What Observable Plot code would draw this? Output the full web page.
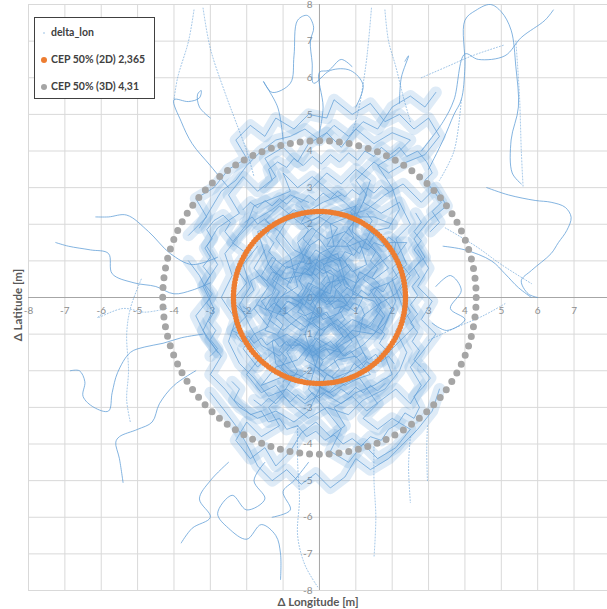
<!DOCTYPE html>
<html><head><meta charset="utf-8">
<script src="https://cdn.jsdelivr.net/npm/d3@7"></script>
<script src="https://cdn.jsdelivr.net/npm/@observablehq/plot@0.6"></script>
<style>
body{margin:0;background:#fff;font-family:Lato,"Open Sans",sans-serif;}
#wrap{position:relative;width:607px;height:609px;overflow:hidden;background:#fff}
#legend{position:absolute;left:34px;top:17px;width:119px;height:80px;border:1.5px solid #404040;background:#fff;font-size:10.5px;font-weight:700;color:#404040}
#legend .row{position:absolute;left:16px;white-space:nowrap}
#legend .dot{position:absolute;left:6px;width:6px;height:6px;border-radius:50%}
.atitle{position:absolute;font-size:11.5px;line-height:12px;font-weight:700;color:#595959;white-space:nowrap}
</style></head>
<body><div id="wrap"></div>
<script>
// ---- data ----
const ticks = [-8,-7,-6,-5,-4,-3,-2,-1,0,1,2,3,4,5,6,7,8];
const seriesName = "delta_lon";
const cepLabels = ["CEP 50% (2D) 2,365", "CEP 50% (3D) 4,31"];
const cepRadii = [2.365, 4.31];
const cepColors = ["#ed7d31", "#a5a5a5"];

const corePaths = [
[[0,0],[0.3,0.4],[0.1,0.9],[0.6,1.1],[0.9,0.7],[1.3,0.9],[1.1,1.5],[0.7,1.8],[0.2,1.6],[-0.2,1.9],[-0.6,1.5],[-0.4,1.0],[-0.9,0.8],[-1.3,1.1],[-1.6,0.6],[-1.2,0.2],[-1.5,-0.3],[-1.0,-0.5],[-0.6,-0.2],[-0.3,-0.6],[0.2,-0.4],[0.5,-0.9],[0.9,-0.6],[1.4,-0.8],[1.7,-0.3],[1.4,0.2],[1.9,0.4],[2.1,-0.1],[1.8,-0.7],[1.2,-1.3],[0.7,-1.6],[0.3,-1.2],[-0.2,-1.5],[-0.7,-1.2],[-1.1,-1.6],[-1.6,-1.3],[-1.9,-0.8],[-2.2,-0.2],[-1.9,0.3],[-2.1,0.9],[-1.7,1.4]],
[[0.5,0.2],[0.8,-0.2],[0.4,-0.3],[0.1,0.2],[-0.3,0.4],[-0.5,0.0],[-0.9,0.3],[-0.7,0.7],[-0.2,0.6],[0.0,1.2],[0.4,1.4],[0.3,2.0],[0.8,2.2],[1.2,2.0],[1.6,1.6],[2.0,1.2],[1.6,0.9],[1.0,0.4],[0.6,0.6],[0.2,0.3],[-0.1,-0.2],[-0.4,-1.0],[-0.1,-1.9],[0.4,-2.2],[0.9,-2.0],[1.3,-1.7],[1.0,-1.1],[0.5,-0.6],[0.0,-0.9],[-0.5,-0.5],[-1.0,-0.9],[-1.4,-0.6],[-1.1,0.0],[-0.6,0.3],[-0.8,1.1],[-1.2,1.6],[-0.9,2.1],[-0.4,2.3],[0.1,2.6],[0.6,2.8]],
[[-0.2,3.0],[0.2,3.4],[0.6,3.1],[1.0,3.5],[1.4,3.2],[1.2,2.6],[1.7,2.3],[2.2,2.6],[2.5,2.0],[2.1,1.6],[2.4,0.9],[2.0,0.5],[2.3,-0.3],[2.6,-0.8],[2.2,-1.2],[1.8,-1.6],[2.0,-2.1],[1.5,-2.4],[1.0,-2.6],[0.6,-2.9],[0.1,-2.6],[-0.4,-2.9],[-0.9,-2.5],[-1.4,-2.7],[-1.8,-2.2],[-2.2,-1.8],[-2.5,-1.2],[-2.3,-0.6],[-2.7,0.0],[-2.4,0.6],[-2.6,1.2],[-2.2,1.7],[-1.8,2.1],[-1.3,2.4],[-0.8,2.8],[-0.3,2.6]],
[[0.0,0.5],[-0.4,0.9],[-0.1,1.3],[0.5,0.9],[0.7,0.3],[1.2,0.0],[1.0,-0.4],[0.6,-0.1],[0.2,-0.1],[-0.2,0.1],[-0.6,-0.1],[-0.3,-0.3],[0.0,-0.5],[-0.4,-0.8],[-0.8,-0.5],[-1.2,-0.2],[-0.9,0.2],[-1.3,0.5],[-1.0,0.9],[-0.5,1.2],[-0.1,1.8],[0.4,2.3],[1.0,2.5],[0.9,1.8],[1.5,1.3],[1.9,0.8],[1.5,0.5],[1.1,0.7],[0.9,0.1],[1.5,-0.1],[1.8,-0.5],[1.5,-1.0],[0.9,-0.9],[0.4,-1.4],[-0.1,-1.1],[-0.6,-1.7],[-1.2,-1.9],[-1.6,-2.4],[-1.1,-2.2],[-0.6,-2.1]],
[[-0.5,-1.0],[-0.9,-1.5],[-0.6,-2.0],[-1.0,-2.6],[-1.4,-3.0],[-1.1,-3.5],[-1.6,-3.8],[-2.0,-3.4],[-2.3,-3.9],[-1.9,-4.4],[-1.5,-4.1],[-1.2,-4.6],[-0.8,-4.2],[-0.5,-3.7],[-0.1,-3.4],[0.3,-3.8],[0.7,-3.5],[0.4,-3.0],[0.9,-2.7],[1.3,-3.1],[1.7,-2.8],[2.1,-2.5],[2.5,-2.9],[2.8,-2.4],[2.5,-1.9],[2.9,-1.4],[3.2,-1.0],[2.8,-0.6],[3.1,-0.1],[2.7,0.3],[3.0,0.8],[2.7,1.3]],
[[0.2,1.0],[0.6,1.6],[1.1,1.2],[1.4,1.8],[1.9,1.9],[2.2,2.4],[2.0,3.0],[1.6,3.6],[2.1,3.9],[2.5,4.3],[2.0,4.5],[1.5,4.2],[1.0,4.6],[0.6,4.1],[0.2,4.5],[-0.3,4.2],[-0.6,3.7],[-1.0,4.1],[-1.5,3.8],[-1.2,3.3],[-1.7,2.9],[-2.1,3.3],[-2.5,2.8],[-2.2,2.3],[-2.8,1.9],[-3.1,1.4],[-2.8,0.9],[-3.2,0.3],[-2.9,-0.3],[-3.2,-0.9],[-2.8,-1.5]],
[[-0.8,0.0],[-0.4,-0.2],[-0.2,0.3],[0.3,0.1],[0.4,0.6],[0.0,0.8],[-0.3,1.1],[-0.7,1.3],[-1.1,1.8],[-1.5,2.1],[-1.1,2.5],[-0.5,2.0],[0.0,2.2],[0.5,1.9],[0.2,1.4],[0.8,1.4],[1.3,1.6],[1.7,1.1],[1.2,0.5],[1.6,0.2],[2.0,-0.3],[1.7,-1.0],[1.1,-0.7],[0.7,-1.1],[0.3,-0.7],[-0.1,-1.2],[-0.4,-1.7],[0.1,-2.0],[0.5,-1.7],[1.0,-1.6],[1.4,-2.1],[0.8,-2.3],[0.3,-2.6],[-0.2,-2.3],[-0.8,-2.0],[-1.3,-1.5],[-1.7,-1.9],[-2.1,-1.4],[-1.8,-1.0],[-1.4,-0.8],[-1.8,-0.3],[-1.4,0.3],[-1.8,0.8],[-1.5,1.3]],
[[1.0,0.2],[0.6,-0.4],[0.1,-0.6],[-0.2,-0.1],[0.2,0.4],[0.7,0.5],[0.5,1.2],[0.0,1.0],[-0.5,0.6],[-1.0,0.5],[-1.4,0.9],[-1.7,1.8],[-1.2,2.0],[-0.7,2.4],[-0.2,2.1],[0.3,2.4],[0.7,2.2],[1.3,2.4],[1.8,2.8],[2.3,3.1],[2.8,2.6],[3.2,3.0],[3.5,2.5],[3.0,2.1],[2.6,1.6],[2.9,1.1],[2.4,0.6],[2.1,0.1],[1.6,-0.2],[1.2,-0.5],[1.1,-1.0],[0.6,-1.3],[0.1,-1.7],[-0.4,-1.3],[-0.9,-1.0],[-1.3,-1.2],[-1.2,-1.8],[-0.7,-2.3],[-0.3,-2.0]],
[[0.5,1.5],[0.9,2.0],[1.3,2.8],[1.0,3.2],[1.5,3.7],[1.9,3.4],[2.4,3.7],[2.9,3.9],[3.3,4.4],[3.0,4.9],[2.6,4.6],[2.2,5.0],[1.8,4.8],[1.4,5.3],[0.9,5.0],[0.4,5.4],[0.2,4.9],[-0.3,5.0],[-0.7,4.6],[-1.2,4.9],[-1.5,4.4],[-1.9,4.7],[-2.3,4.3],[-2.0,3.8],[-2.5,3.5],[-2.9,3.0],[-3.4,2.7],[-3.1,2.2],[-3.6,1.7]],
[[0.0,-1.5],[-0.3,-2.5],[0.2,-3.1],[0.6,-3.6],[0.3,-4.2],[0.8,-4.5],[1.2,-4.0],[1.6,-4.4],[2.1,-4.1],[2.5,-3.6],[2.0,-3.3],[1.6,-3.6],[1.2,-3.3],[1.6,-2.9],[1.1,-2.2],[0.7,-2.4],[0.2,-2.1],[-0.3,-3.1],[-0.7,-3.4],[-1.2,-3.1],[-1.7,-3.3],[-2.2,-3.0],[-2.6,-2.5],[-3.0,-2.1],[-2.7,-1.6],[-3.1,-1.1],[-3.4,-0.5],[-3.0,0.0],[-3.3,0.6],[-3.6,1.0]],
[[0.1,0.1],[0.3,-0.2],[0.6,0.0],[0.4,0.3],[0.7,0.5],[0.9,0.2],[1.1,0.5],[0.8,0.9],[0.5,0.7],[0.2,0.9],[-0.1,0.6],[-0.4,0.8],[-0.6,0.5],[-0.3,0.2],[-0.6,-0.2],[-0.9,-0.1],[-1.1,-0.4],[-0.8,-0.7],[-0.5,-0.9],[-0.2,-0.7],[0.1,-0.9],[0.4,-0.7],[0.7,-0.9],[0.9,-1.2],[0.6,-1.5],[0.2,-1.4],[-0.2,-1.6],[-0.5,-1.3],[-0.9,-1.3],[-1.2,-1.0],[-1.5,-0.9],[-1.3,-0.5],[-1.6,-0.1],[-1.3,0.1],[-1.1,0.6],[-0.8,0.4],[-0.5,1.0],[-0.3,1.4],[0.0,1.6],[0.3,1.2],[0.6,1.0]],
[[2.0,2.0],[1.5,2.2],[1.1,2.2],[0.7,2.6],[0.3,2.9],[-0.2,3.3],[-0.6,3.0],[-1.0,3.4],[-0.8,2.9],[-1.3,2.7],[-1.8,2.5],[-2.0,2.0],[-2.4,1.5],[-2.0,1.2],[-2.3,0.8],[-2.0,0.4],[-2.4,-0.1],[-2.0,-0.5],[-2.4,-0.9],[-2.0,-1.1],[-1.6,-1.6],[-2.0,-2.1],[-1.6,-2.6],[-1.2,-2.4],[-0.8,-2.9],[-0.3,-3.3],[0.2,-3.0],[0.8,-3.2],[1.2,-2.8],[1.8,-2.5],[2.2,-2.0],[2.4,-1.5],[2.1,-0.9],[2.5,-0.4],[2.2,0.2],[2.5,0.6],[2.1,1.1],[2.4,1.5],[1.9,1.5]],
[[-2.0,0.0],[-1.8,0.2],[-1.9,0.45],[-1.65,0.6],[-1.45,0.45],[-1.3,0.7],[-1.05,0.6],[-0.9,0.85],[-0.65,0.75],[-0.55,1.0],[-0.3,0.9],[-0.1,1.05],[0.15,0.9],[0.3,1.1],[0.55,1.0],[0.7,1.25],[0.95,1.15],[1.1,1.4],[1.35,1.3],[1.5,1.5],[1.75,1.4],[1.9,1.65],[2.1,1.5],[2.05,1.25],[2.2,1.0],[2.0,0.8],[2.15,0.55],[1.9,0.4],[1.75,0.15],[1.55,0.3],[1.35,0.05],[1.15,0.2],[0.95,-0.05],[0.75,0.1],[0.55,-0.1],[0.35,0.05],[0.15,-0.15],[-0.05,0.0],[-0.25,-0.2],[-0.45,-0.05],[-0.65,-0.25],[-0.85,-0.1],[-1.05,-0.3],[-1.25,-0.15],[-1.45,-0.35],[-1.7,-0.2],[-1.9,-0.4],[-2.1,-0.25]],
[[-0.5,2.5],[-0.35,2.3],[-0.5,2.05],[-0.3,1.85],[-0.45,1.6],[-0.25,1.4],[-0.4,1.15],[-0.2,0.95],[-0.35,0.7],[-0.15,0.5],[-0.3,0.25],[-0.1,0.05],[-0.25,-0.2],[-0.05,-0.4],[-0.2,-0.65],[0.0,-0.85],[-0.15,-1.1],[0.05,-1.3],[-0.1,-1.55],[0.1,-1.75],[-0.05,-2.0],[0.15,-2.2],[0.0,-2.45],[0.25,-2.6],[0.45,-2.4],[0.35,-2.15],[0.55,-1.95],[0.4,-1.7],[0.6,-1.5],[0.45,-1.25],[0.65,-1.05],[0.5,-0.8],[0.7,-0.6],[0.55,-0.35],[0.75,-0.15],[0.6,0.1],[0.8,0.3],[0.65,0.55],[0.85,0.75],[0.7,1.0],[0.9,1.2],[0.75,1.45],[0.95,1.65],[0.8,1.9],[1.0,2.1],[0.85,2.35],[1.05,2.55]],
[[1.3,2.3],[1.45,2.1],[1.3,1.85],[1.5,1.7],[1.35,1.45],[1.55,1.25],[1.4,1.0],[1.6,0.8],[1.45,0.55],[1.65,0.35],[1.5,0.1],[1.7,-0.1],[1.55,-0.35],[1.75,-0.55],[1.6,-0.8],[1.8,-1.0],[1.65,-1.25],[1.85,-1.45],[1.7,-1.7],[1.5,-1.9],[1.3,-1.75],[1.15,-1.95],[0.95,-1.8],[0.8,-2.05],[0.6,-2.2]],
[[-1.0,-2.3],[-0.85,-2.1],[-1.05,-1.9],[-0.9,-1.65],[-1.1,-1.45],[-0.95,-1.2],[-1.15,-1.0],[-1.0,-0.75],[-1.2,-0.55],[-1.05,-0.3],[-1.25,-0.1],[-1.1,0.15],[-1.3,0.35],[-1.15,0.6],[-1.35,0.8],[-1.2,1.05],[-1.4,1.25],[-1.25,1.5],[-1.45,1.7],[-1.3,1.95],[-1.5,2.15],[-1.7,2.0],[-1.85,2.2],[-2.05,2.05]],
[[-2.3,-1.0],[-2.15,-1.2],[-1.95,-1.05],[-1.8,-1.25],[-1.6,-1.1],[-1.45,-1.3],[-1.25,-1.15],[-1.1,-1.35],[-0.9,-1.2],[-0.75,-1.4],[-0.55,-1.25],[-0.4,-1.45],[-0.2,-1.3],[-0.05,-1.5],[0.15,-1.35],[0.3,-1.55],[0.5,-1.4],[0.65,-1.6],[0.85,-1.45],[1.0,-1.65],[1.2,-1.5],[1.35,-1.7],[1.55,-1.55],[1.7,-1.75],[1.9,-1.6],[2.05,-1.8]],
[[-2.1,2.4],[-1.9,2.6],[-1.7,2.45],[-1.5,2.65],[-1.3,2.5],[-1.1,2.7],[-0.9,2.55],[-0.7,2.75],[-0.5,2.6],[-0.3,2.8],[-0.1,2.65],[0.1,2.85],[0.3,2.7],[0.5,2.9],[0.7,2.75],[0.9,2.95],[1.1,2.8],[1.3,3.0],[1.5,2.85],[1.7,3.05],[1.9,2.9]],
[[-1.8,-2.8],[-1.6,-2.95],[-1.4,-2.75],[-1.2,-2.9],[-1.0,-2.7],[-0.8,-2.85],[-0.6,-2.65],[-0.4,-2.8],[-0.2,-2.6],[0.0,-2.75],[0.2,-2.55],[0.4,-2.7],[0.6,-2.5],[0.8,-2.65],[1.0,-2.45],[1.2,-2.6],[1.4,-2.4],[1.6,-2.55],[1.8,-2.35]],
[[0.2,0.6],[0.05,0.4],[0.25,0.2],[0.05,0.05],[0.2,-0.2],[0.4,-0.05],[0.45,0.2],[0.6,0.35],[0.5,0.55],[0.3,0.75],[0.1,0.65],[-0.1,0.8],[-0.25,0.6],[-0.45,0.7],[-0.55,0.45],[-0.45,0.25],[-0.6,0.05],[-0.45,-0.15],[-0.6,-0.4],[-0.4,-0.5],[-0.2,-0.4],[-0.05,-0.55],[0.15,-0.45],[0.3,-0.6],[0.5,-0.45],[0.6,-0.25],[0.8,-0.35],[0.95,-0.15],[1.15,-0.25],[1.25,-0.5],[1.05,-0.7],[1.25,-0.85],[1.45,-0.65],[1.6,-0.45]],
[[-1.5,3.0],[-1.3,3.2],[-1.4,3.5],[-1.15,3.7],[-0.9,3.55],[-0.7,3.8],[-0.45,3.6],[-0.2,3.85],[0.05,3.65],[0.3,3.9],[0.55,3.7],[0.8,3.95],[1.05,3.75],[1.25,4.0],[1.5,3.85],[1.7,4.1],[1.95,3.9],[2.2,4.1],[2.4,3.85],[2.7,4.0],[2.95,3.7],[3.1,3.4],[2.9,3.2],[3.15,2.9],[3.35,2.6],[3.1,2.35],[3.3,2.05],[3.05,1.8]],
[[-2.4,-2.3],[-2.2,-2.5],[-2.35,-2.8],[-2.1,-3.0],[-1.9,-3.2],[-1.6,-3.1],[-1.4,-3.4],[-1.1,-3.3],[-0.9,-3.6],[-0.6,-3.5],[-0.35,-3.8],[-0.1,-3.65],[0.15,-3.9],[0.4,-3.75],[0.65,-4.0],[0.9,-3.85],[1.15,-4.05],[1.4,-3.8],[1.7,-3.9],[1.9,-3.6],[2.15,-3.45],[2.35,-3.15],[2.6,-3.3],[2.75,-3.0],[2.6,-2.7],[2.85,-2.45],[3.05,-2.2],[2.85,-1.95]],
[[-3.0,-1.6],[-2.8,-1.4],[-3.0,-1.15],[-2.85,-0.9],[-3.05,-0.65],[-2.9,-0.4],[-3.1,-0.15],[-2.95,0.1],[-3.15,0.35],[-3.0,0.6],[-3.2,0.85],[-3.0,1.1],[-3.15,1.35],[-2.95,1.6],[-3.1,1.85],[-2.9,2.1],[-2.65,2.25],[-2.45,2.05],[-2.6,1.8],[-2.4,1.55]],
[[2.8,-1.9],[2.6,-1.7],[2.75,-1.45],[2.55,-1.2],[2.7,-0.95],[2.5,-0.7],[2.7,-0.45],[2.5,-0.2],[2.7,0.05],[2.55,0.3],[2.75,0.55],[2.6,0.8],[2.8,1.05],[2.6,1.3],[2.8,1.55],[2.6,1.8],[2.8,2.05],[2.65,2.3]],
[[-3.3,1.9],[-3.0,2.4],[-2.7,2.9],[-2.3,3.2],[-2.0,3.6],[-1.6,4.0],[-1.2,4.3],[-0.8,4.4],[-0.4,4.6],[0.0,4.3],[0.4,4.7],[0.8,4.4],[1.2,4.8],[1.6,4.6],[2.0,5.2],[2.5,5.5],[2.9,5.2],[3.2,5.6]],
[[-3.0,-2.6],[-2.6,-3.1],[-2.3,-3.5],[-2.0,-4.0],[-1.7,-4.6],[-1.3,-5.0],[-0.9,-4.7],[-0.5,-5.1],[-0.1,-4.8],[0.3,-5.2],[0.7,-4.9],[1.0,-4.4],[1.4,-4.7],[1.9,-4.4],[2.3,-4.0],[2.7,-3.6],[3.1,-3.1],[3.3,-2.5]]
];

const outerPaths = [
[[-3.0,0.4],[-3.5,0.2],[-4.0,0.1],[-4.5,0.3],[-5.1,0.4],[-5.7,0.65],[-5.8,1.2],[-6.3,1.3],[-6.9,1.4],[-7.25,1.5]],
[[-2.8,1.1],[-3.5,0.9],[-4.1,1.2],[-4.7,1.8],[-5.3,2.25],[-5.8,2.2],[-6.15,2.2]],
[[-3.2,-1.0],[-3.8,-1.1],[-4.3,-1.25],[-4.8,-1.35],[-5.2,-1.5],[-5.55,-2.05],[-5.7,-2.6],[-5.8,-3.1],[-6.2,-3.0],[-6.5,-2.7],[-6.45,-2.3],[-6.6,-2.0],[-6.85,-2.0]],
[[-3.4,-2.0],[-4.0,-2.4],[-4.4,-2.9],[-4.6,-3.4],[-5.0,-3.6],[-5.5,-3.8],[-5.6,-3.95],[-5.5,-4.4],[-5.4,-5.05]],
[[-2.5,3.0],[-3.0,3.6],[-3.5,4.2],[-3.8,4.8],[-4.0,5.4],[-3.6,5.35],[-3.3,5.45],[-3.25,5.65],[-3.35,5.55],[-3.3,5.2],[-3.0,4.9]],
[[-1.0,4.3],[-1.15,5.2],[-1.54,5.9],[-1.3,5.6],[-0.8,5.85],[-0.7,6.6],[-0.6,7.57],[-0.33,7.7],[-0.16,7.38],[-0.25,7.0],[-0.2,6.4],[-0.16,5.85],[0.3,6.2],[0.85,6.2],[1.2,5.8],[1.0,5.2]],
[[3.0,3.5],[3.4,4.3],[3.7,5.0],[3.9,5.4],[4.0,6.3],[4.0,7.57],[4.3,7.84],[4.7,8.0],[5.0,7.8],[5.27,7.3],[5.4,6.3],[5.47,5.2],[5.27,4.3],[5.3,3.4],[5.55,3.1]],
[[2.8,4.0],[3.4,4.8],[3.7,5.4],[4.0,6.65],[4.37,6.5],[5.1,6.6],[5.55,7.1],[6.2,7.57],[6.43,7.85]],
[[4.6,3.0],[5.2,2.8],[5.93,2.65],[6.37,2.6],[6.76,2.46],[6.92,2.19],[6.8,1.83],[6.57,1.5],[6.37,1.2],[5.83,0.74],[5.55,0.46],[5.74,0.1],[6.0,0.0]],
[[3.4,1.4],[4.0,1.3],[4.73,1.0],[5.1,0.65],[5.47,0.27],[5.83,0.0]],
[[3.2,0.3],[3.6,0.6],[3.9,0.2],[3.6,-0.3],[4.0,-0.6],[3.5,-0.9],[3.1,-0.7]],
[[-1.5,-4.5],[-1.8,-5.0],[-1.5,-5.5],[-2.0,-5.8],[-2.4,-5.4],[-2.8,-5.9],[-2.5,-6.3],[-2.0,-6.6],[-1.6,-6.2],[-1.2,-6.5],[-1.07,-7.0],[-1.07,-7.7]],
[[-0.3,-4.5],[-0.7,-5.0],[-1.0,-5.3],[-0.8,-5.8],[-1.3,-6.0]],
[[-2.5,-4.5],[-3.0,-5.0],[-3.3,-5.5],[-3.0,-6.0],[-3.5,-6.3],[-3.8,-6.7]],
[[0.0,4.5],[0.1,5.2],[0.0,6.15],[0.25,6.2],[0.6,6.5],[0.9,6.3]],
[[2.2,5.3],[2.25,6.0],[2.45,6.6],[2.35,6.45]]
];

const dottedPaths = [
[[-4.9,0.5],[-5.2,-0.3],[-5.3,-1.0],[-5.25,-2.0],[-5.3,-2.8],[-5.2,-3.4]],
[[-4.2,-0.3],[-4.8,-0.4],[-5.4,-0.3],[-6.1,-0.55],[-5.9,-0.4]],
[[-3.2,7.9],[-3.0,6.8],[-2.6,5.6],[-2.3,4.8],[-2.0,4.0],[-1.8,3.3]],
[[-3.45,7.85],[-3.6,7.0],[-3.9,6.0],[-4.0,5.4]],
[[1.43,7.9],[1.35,7.0],[1.27,6.3],[1.07,5.1],[0.9,4.5]],
[[1.8,7.85],[1.9,7.0],[2.1,6.3],[2.3,5.5],[2.5,4.8]],
[[3.46,1.9],[4.3,1.4],[5.0,0.9],[5.83,0.38]],
[[3.0,-1.17],[3.8,-0.8],[4.5,-0.5],[5.1,-0.17]],
[[-0.6,-3.5],[-0.6,-4.5],[-0.55,-5.5],[-0.6,-6.5],[-0.4,-7.3],[-0.05,-7.9]],
[[1.5,-4.0],[1.5,-5.0],[1.55,-6.0],[1.5,-7.1]],
[[2.97,-3.5],[2.95,-4.2],[2.97,-5.0]],
[[2.5,-3.8],[2.45,-4.6],[2.5,-5.6]],
[[3.9,5.4],[3.7,4.0],[3.3,3.2]],
[[2.8,6.0],[3.5,6.3],[4.2,6.6],[5.1,6.9]],
[[5.4,7.0],[5.5,5.5],[5.55,4.0],[5.6,3.0]]
];

// ---- build ----
const toRows = (paths, tag) => paths.flatMap((p, i) => p.map(([x, y]) => ({x, y, id: tag + i})));
const coreRows = toRows(corePaths, "c");
const outerRows = toRows(outerPaths, "o");
const dotRows = toRows(dottedPaths, "d");

const xDomain = [-8, 7.92], xRange = [28, 607];
const xs = Plot.scale({x: {domain: xDomain, range: xRange}});
const pxR = cepRadii.map(r => xs.apply(r) - xs.apply(0));
const dotCounts = [180, 100];
const xLabelTicks = ticks.filter(t => t < 8);

const blue = "#5b9bd5";
const plot = Plot.plot({
  width: 607, height: 609,
  marginLeft: 28, marginRight: 0, marginTop: 4, marginBottom: 19,
  x: {domain: xDomain, axis: null},
  y: {domain: [-8, 8], axis: null},
  style: {background: "transparent", fontFamily: "Lato, sans-serif"},
  marks: [
    Plot.ruleX(ticks.filter(t => t !== 0), {stroke: "#d9d9d9", strokeWidth: 1}),
    Plot.ruleY(ticks.filter(t => t !== 0), {stroke: "#d9d9d9", strokeWidth: 1}),
    Plot.ruleX([0], {stroke: "#a6a6a6", strokeWidth: 1}),
    Plot.ruleY([0], {stroke: "#a6a6a6", strokeWidth: 1}),
    Plot.text(xLabelTicks, {x: d => d, y: 0, text: d => String(d), dy: 13, fill: "#8c8c8c", fontSize: 10}),
    Plot.text(ticks, {x: 0, y: d => d, text: d => String(d), dx: -7, textAnchor: "end", fill: "#8c8c8c", fontSize: 10}),
    Plot.line(dotRows, {x: "x", y: "y", z: "id", stroke: blue, strokeWidth: 1, strokeOpacity: 0.6, strokeDasharray: "1 2", curve: "catmull-rom"}),
    Plot.line(outerRows, {x: "x", y: "y", z: "id", stroke: blue, strokeWidth: 1, strokeOpacity: 0.75, curve: "catmull-rom"}),
    // wide faint trace of the dense core, then the fine trace on top
    Plot.line(coreRows, {x: "x", y: "y", z: "id", stroke: blue, strokeWidth: 12, strokeOpacity: 0.2, strokeLinejoin: "round", strokeLinecap: "round", curve: "linear"}),
    Plot.line(coreRows, {x: "x", y: "y", z: "id", stroke: blue, strokeWidth: 1, strokeOpacity: 0.7, curve: "linear"}),
    Plot.dot([0], {x: 0, y: 0, r: pxR[1], fill: "none", stroke: cepColors[1], strokeWidth: 7,
      strokeDasharray: `0 ${(2 * Math.PI * pxR[1] / dotCounts[1]).toFixed(3)}`, strokeLinecap: "round"}),
    Plot.dot([0], {x: 0, y: 0, r: pxR[0], fill: "none", stroke: cepColors[0], strokeWidth: 5.5,
      strokeDasharray: `0 ${(2 * Math.PI * pxR[0] / dotCounts[0]).toFixed(3)}`, strokeLinecap: "round"})
  ]
});

const wrap = document.getElementById("wrap");
wrap.appendChild(plot);
plot.style.position = "absolute"; plot.style.left = "0"; plot.style.top = "0";

// legend
const leg = document.createElement("div");
leg.id = "legend";
const items = [{label: seriesName, color: blue, size: 2, op: 0.4}].concat(cepLabels.map((l, i) => ({label: l, color: cepColors[i], size: 6, op: 1})));
items.forEach((it, i) => {
  const top = 8 + i * 27;
  const d = document.createElement("div");
  d.className = "dot";
  d.style.background = it.color; d.style.opacity = it.op;
  d.style.width = d.style.height = it.size + "px";
  d.style.top = (top + 7 - it.size / 2) + "px";
  d.style.left = (9 - it.size / 2) + "px";
  leg.appendChild(d);
  const t = document.createElement("div");
  t.className = "row"; t.style.top = top + "px"; t.textContent = it.label;
  leg.appendChild(t);
});
wrap.appendChild(leg);

// axis titles
const xt = document.createElement("div");
xt.className = "atitle"; xt.textContent = "Δ Longitude [m]";
xt.style.left = "318px"; xt.style.top = "596px"; xt.style.transform = "translateX(-50%)";
wrap.appendChild(xt);
const yt = document.createElement("div");
yt.className = "atitle"; yt.textContent = "Δ Latitude [m]";
yt.style.left = "18px"; yt.style.top = "305px"; yt.style.transform = "translate(-50%,-50%) rotate(-90deg)";
wrap.appendChild(yt);
</script>
</body></html>
